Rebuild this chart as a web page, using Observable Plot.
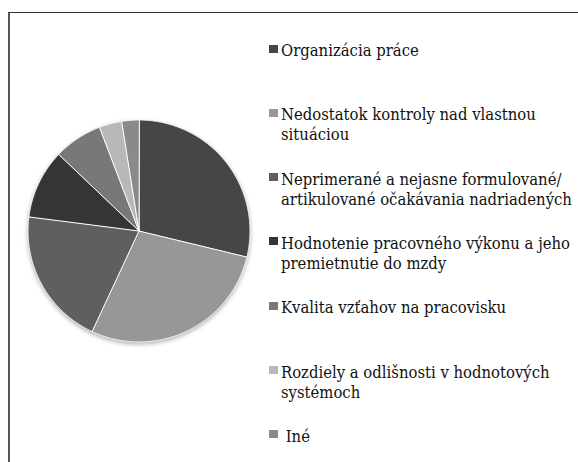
<!DOCTYPE html>
<html>
<head>
<meta charset="utf-8">
<script src="https://cdn.jsdelivr.net/npm/d3@7"></script>
<script src="https://cdn.jsdelivr.net/npm/@observablehq/plot@0.6"></script>
<style>
  body { margin: 0; background: #fff; }
  #wrap { position: relative; width: 578px; height: 462px; overflow: hidden; background: #fff;
          font-family: "DejaVu Serif Condensed", "DejaVu Serif", serif; font-stretch: condensed; color: #111; }
  #chart { position: absolute; left: 0; top: 0; }
  #chart svg { filter: drop-shadow(0px 2px 2px rgba(0,0,0,0.3)); }
  #frame { position: absolute; left: 8px; top: 12px; width: 700px; height: 600px;
           border-left: 2px solid #555; border-top: 1.5px solid #333; box-sizing: border-box; }
  .item { position: absolute; left: 269px; width: 309px; }
  .sw { position: absolute; left: 0; top: 3.5px; width: 9px; height: 8px; }
  .lab { position: absolute; left: 12px; width: 296px; font-size: 16.5px; line-height: 20px;
         white-space: pre-wrap; }
</style>
</head>
<body>
<div id="wrap">
  <div id="frame"></div>
  <div id="chart"></div>
  <div id="legend"></div>
</div>
<script>
const categories = [
  "Organizácia práce",
  "Nedostatok kontroly nad vlastnou situáciou",
  "Neprimerané a nejasne formulované/artikulované očakávania nadriadených",
  "Hodnotenie pracovného výkonu a jeho premietnutie do mzdy",
  "Kvalita vzťahov na pracovisku",
  "Rozdiely a odlišnosti v hodnotových systémoch",
  " Iné"
];
const values = [28.8, 28.2, 20.1, 10.1, 7.1, 3.3, 2.5];
const shades = ["#464646", "#979797", "#5f5f5f", "#353535", "#787878", "#b8b8b8", "#8a8a8a"];

// Slice outlines in unit coordinates (angle clockwise from 12 o'clock)
const arcs = d3.pie().sort(null).value(d => d.value)(categories.map((c, i) => ({cat: c, value: values[i]})));
const pts = [];
for (const a of arcs) {
  const cat = a.data.cat;
  pts.push({cat, x: 0, y: 0});
  const n = Math.max(2, Math.ceil((a.endAngle - a.startAngle) / 0.005));
  for (let k = 0; k <= n; k++) {
    const t = a.startAngle + (a.endAngle - a.startAngle) * k / n;
    pts.push({cat, x: Math.sin(t), y: Math.cos(t)});
  }
}

const plot = Plot.plot({
  width: 578,
  height: 462,
  marginLeft: 27.5,
  marginRight: 328.5,
  marginTop: 119.5,
  marginBottom: 120.5,
  x: {domain: [-1, 1], axis: null},
  y: {domain: [-1, 1], axis: null},
  color: {domain: categories, range: shades},
  style: {background: "transparent"},
  marks: [
    Plot.line(pts, {x: "x", y: "y", z: "cat", fill: "cat", stroke: "white",
                    strokeWidth: 1, curve: "linear-closed"})
  ]
});
document.getElementById("chart").appendChild(plot);

// Legend
const legend = document.getElementById("legend");
categories.forEach((c, i) => {
  const item = document.createElement("div");
  item.className = "item";
  item.style.top = (41 + i * 64.33) + "px";
  const sw = document.createElement("div");
  sw.className = "sw";
  sw.style.background = plot.scale("color").apply(c);
  const lab = document.createElement("div");
  lab.className = "lab";
  lab.innerHTML = c.replace("/", "/<wbr>");
  item.appendChild(sw);
  item.appendChild(lab);
  legend.appendChild(item);
});
</script>
</body>
</html>
